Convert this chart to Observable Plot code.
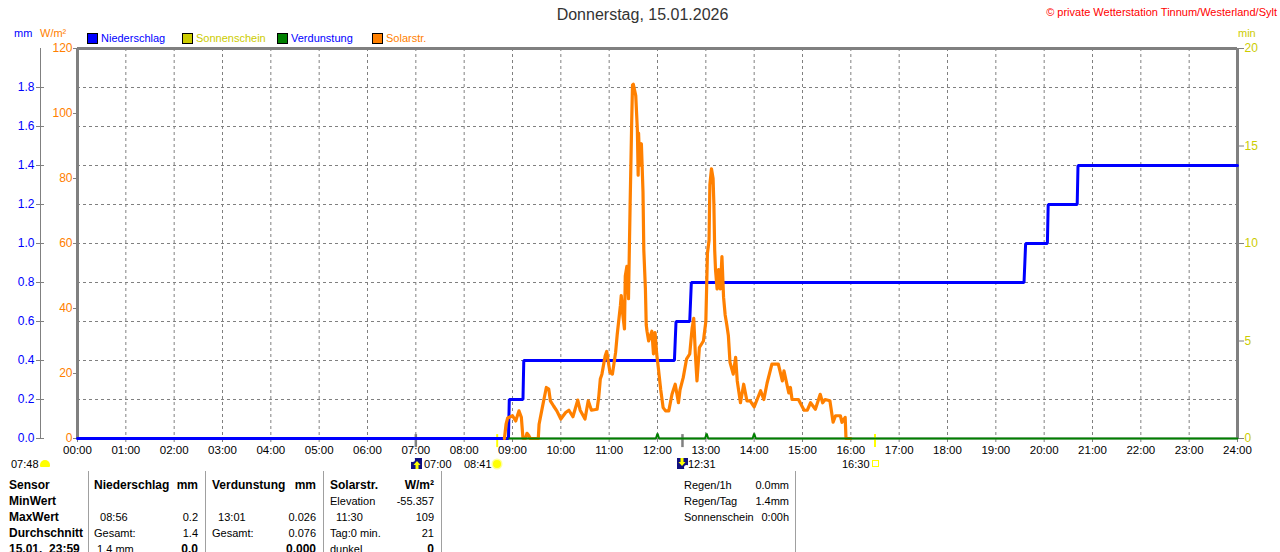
<!DOCTYPE html>
<html><head><meta charset="utf-8">
<script src="https://cdn.jsdelivr.net/npm/d3@7"></script>
<script src="https://cdn.jsdelivr.net/npm/@observablehq/plot@0.6"></script>
<style>
html,body{margin:0;padding:0;background:#fff}
#c{position:relative;width:1280px;height:552px;overflow:hidden;font-family:"Liberation Sans",Arial,sans-serif;font-size:11px;color:#000}
#c svg.plot{position:absolute;left:0;top:0}
.t{position:absolute;white-space:pre;line-height:14px}
.b{font-weight:bold;font-size:12px}
.box{position:absolute;box-sizing:border-box}
</style></head><body><div id="c"></div>
<script>
// ---- data: minutes after midnight ----
const solarMinutes=[530,532,534,540,544,548,551,553,556,558,560,562,572,573,577,579,582,585,587,591,595,600,606,610,615,621,624,630,634,638,645,647,649,651,655,657,661,664,668,670,674,675,677,679,680,682,684,686,688,689,690,693,695,696,696.5,698,700,702,703,705,706,707,709,713,715,717,719,721,724,727,730,734,738,742,746,748,752,756,760,763,765,767,769,772,777,780,782,784,785,787,789,790,791,792,794,796,798,800,802,804,806,808,810,814,817,819,823,827,831,835,840,848,852,856,862,870,875,877,883,885,887,895,902,906,910,916,922,925,928,934,938,941,947,949,953,954,960];
const solarValues=[0,4.4,6.3,7,5.4,8.5,6.5,0,0,1.6,1,0,0,4.4,9.5,12,15.7,15.2,11.6,10,8.5,6,8,8.7,6.7,11.8,8.7,6,11.6,8.7,9,12.6,18.3,19.8,25.4,26.8,20.3,19.8,26.5,32,41,44,38,33.7,50,53,43,71.7,97.8,108.8,109,105.5,95,81,94,84,90.7,75.8,58,46,35,33,30,33,26,32.6,26,21.8,15,9.5,8.5,8.5,13.6,16.7,11,15,18.8,24.4,26,34,37,26,17.7,28,30,36,57,61,78,83,80,72,58,52,46,52,46,56,43.5,38,35,31.6,23.4,19.8,25,17.7,11,16.7,11.6,11.6,9.7,14.7,12,17,22.9,22.9,17.7,20.8,14,15.7,12,12,8.7,8.7,11,9,13.6,11,12,11.6,5,7,7,5,6.5,0,0];
const rainMinutes=[0,535,536,553,554,741,742,743,760,761,762,1175,1176,1177,1204,1205,1241,1242,1440];
const rainValues=[0,0,0.2,0.2,0.4,0.4,0.5,0.6,0.6,0.7,0.8,0.8,0.9,1.0,1.0,1.2,1.2,1.4,1.4];
const evapMinutes=[536,718,720,722,779,781,783,838,840,842,1440];
const evapValues=[0,0,0.026,0,0,0.026,0,0,0.026,0,0];
const hourTicks=d3.range(0,25);
const hourLabels=hourTicks.map(h=>String(h).padStart(2,"0")+":00");
const solarTicks=[0,20,40,60,80,100,120];
const mmTicks=[0,0.2,0.4,0.6,0.8,1.0,1.2,1.4,1.6,1.8];
const minTicks=[0,5,10,15,20];
const gridMm=[0.2,0.4,0.6,0.8,1.0,1.2,1.4,1.6,1.8];
const sunMarks=[521,990];
const greyMarks=[420,751];
const legendNames=["Niederschlag","Sonnenschein","Verdunstung","Solarstr."];
const titleText="Donnerstag, 15.01.2026";
const copyrightText="© private Wetterstation Tinnum/Westerland/Sylt";
const tableSensor=["Sensor","MinWert","MaxWert","Durchschnitt","15.01.  23:59"];
const tableRain=[["Niederschlag","mm"],["",""],["  08:56","0.2"],["Gesamt:","1.4"],[" 1.4 mm","0.0"]];
const tableEvap=[["Verdunstung","mm"],["",""],["  13:01","0.026"],["Gesamt:","0.076"],["","0.000"]];
const tableSolar=[["Solarstr.","W/m²"],["Elevation","-55.357"],["  11:30","109"],["Tag:0 min.","21"],["dunkel","0"]];
const tableSummary=[["Regen/1h","0.0mm"],["Regen/Tag","1.4mm"],["Sonnenschein","0:00h"]];

// ---- styles ----
const BLUE="#0000ff",ORANGE="#ff8000",GREEN="#008000",OLIVE="#cccc00",GREY="#808080";
const mmToW=60,minToW=6;
const pts=(xs,ys,k=1)=>xs.map((x,i)=>({x,y:ys[i]*k}));

const chart=Plot.plot({
  width:1280,height:552,marginLeft:77,marginRight:43,marginTop:48,marginBottom:114,
  style:{fontFamily:'"Liberation Sans",Arial,sans-serif',fontSize:"11px",background:"transparent",color:"#000",overflow:"visible"},
  x:{domain:[0,1440],axis:null},
  y:{domain:[0,120],axis:null},
  marks:[
    Plot.gridX(hourTicks.slice(1,-1).map(h=>h*60),{stroke:GREY,strokeOpacity:1,strokeWidth:1,strokeDasharray:"3,3"}),
    Plot.gridY(gridMm.map(v=>v*mmToW),{stroke:GREY,strokeOpacity:1,strokeWidth:1,strokeDasharray:"3,3"}),
    Plot.ruleX([0,1440],{stroke:GREY,strokeWidth:3}),
    Plot.ruleY([120],{stroke:GREY,strokeWidth:3}),
    Plot.ruleY([0],{stroke:"#a0a0a0",strokeWidth:2}),
    Plot.ruleX([0],{y1:0,y2:120,dx:-37,stroke:GREY,strokeWidth:1}),
    Plot.axisX({ticks:hourTicks.map(h=>h*60),anchor:"bottom",tickSize:4,tickPadding:3,stroke:GREY,fill:"#000",
      tickFormat:d=>hourLabels[d/60],label:null,fontSize:11.5}),
    Plot.axisY({ticks:solarTicks,anchor:"left",tickSize:4,tickPadding:1,stroke:GREY,fill:ORANGE,label:null,fontSize:12}),
    Plot.axisY({ticks:mmTicks.map(v=>v*mmToW),anchor:"left",dx:-33,tickSize:8,tickPadding:2,stroke:GREY,fill:BLUE,
      tickFormat:d=>(d/mmToW).toFixed(1),label:null,fontSize:12}),
    Plot.axisY({ticks:minTicks.map(v=>v*minToW),anchor:"right",tickSize:6,tickPadding:1,stroke:GREY,fill:OLIVE,
      tickFormat:d=>String(d/minToW),label:null,fontSize:12}),
    Plot.ruleX(sunMarks,{y1:-2.8,y2:1.2,stroke:"#ffff00",strokeWidth:2}),
    Plot.ruleX(greyMarks,{y1:-2.8,y2:1.2,stroke:GREY,strokeWidth:2.5}),
    Plot.line(pts(rainMinutes,rainValues,mmToW),{x:"x",y:"y",stroke:BLUE,strokeWidth:3,strokeLinejoin:"miter"}),
    Plot.line(pts(solarMinutes,solarValues),{x:"x",y:"y",stroke:ORANGE,strokeWidth:3.2,strokeLinejoin:"round"}),
    Plot.line(pts(evapMinutes,evapValues,mmToW),{x:"x",y:"y",stroke:GREEN,strokeWidth:2,strokeLinejoin:"miter"})
  ]
});
const c=document.getElementById("c");
c.appendChild(chart);

// ---- text, legend and table around the plot ----
function put(text,x,cy,o={}){
  const e=document.createElement("div");e.className="t"+(o.bold?" b":"");e.textContent=text;
  e.style.top=(cy-7)+"px";
  if(o.right!=null){e.style.right=(1280-o.right)+"px"}else if(o.center){e.style.left=x+"px";e.style.transform="translateX(-50%)"}else{e.style.left=x+"px"}
  if(o.color)e.style.color=o.color;
  if(o.size)e.style.fontSize=o.size+"px";
  c.appendChild(e);return e;
}
function box(x,y,w,h,css){const e=document.createElement("div");e.className="box";
  Object.assign(e.style,{left:x+"px",top:y+"px",width:w+"px",height:h+"px"},css||{});c.appendChild(e);return e;}

put(titleText,642.5,15,{center:true,size:16,color:"#333"});
put(copyrightText,0,12,{right:1277,color:"#ff0000",size:11});
put("mm",14,33,{color:BLUE});
put("W/m²",40,33,{color:ORANGE});
put("min",1238,33,{color:OLIVE});
const legendX=[87,182,277,372],legendSwatch=[BLUE,OLIVE,GREEN,ORANGE],legendText=[BLUE,OLIVE,BLUE,ORANGE];
legendNames.forEach((n,i)=>{
  box(legendX[i],33,11,11,{background:legendSwatch[i],border:"1px solid #000"});
  put(n,legendX[i]+14,38,{color:legendText[i]});
});

// time row beneath the axis
put("07:48",11,464);
box(40,460,10,7,{background:"#ffff00",borderRadius:"5px 5px 1px 1px"});
put("07:00",424,464);
put("08:41",464,464);
box(493,460,8,8,{background:"#ffff00",borderRadius:"50%",boxShadow:"0 0 0 1.5px #ffff99"});
put("12:31",688,464);
put("16:30",842,464);
box(872,460,7,7,{border:"1px solid #ffff00"});
function icon(x,up){
  const e=box(x,458,11,11,{background:"#101080",overflow:"hidden"});
  const s=document.createElementNS("http://www.w3.org/2000/svg","svg");
  s.setAttribute("width",11);s.setAttribute("height",11);
  s.innerHTML=up?'<circle cx="1.5" cy="1.5" r="2.5" fill="#fff"/><path d="M5 3 8.5 7H6.5V11H3.5V7H1.5Z" transform="translate(1 0)" fill="#ffff00"/>'
               :'<circle cx="9.5" cy="9.5" r="2.5" fill="#fff"/><path d="M5 8 8.5 4H6.5V0H3.5V4H1.5Z" fill="#ffff00"/>';
  e.appendChild(s);
}
icon(411,true);icon(677,false);

// table
const rowY=[485,501,517,533,549];
tableSensor.forEach((s,i)=>put(s,9,rowY[i],{bold:true}));
[[tableRain,94,198],[tableEvap,212,316],[tableSolar,330,434]].forEach(([t,l,r])=>{
  t.forEach((row,i)=>{
    const bold=i===0;
    if(row[0])put(row[0],l,rowY[i],{bold});
    if(row[1])put(row[1],0,rowY[i],{right:r,bold:bold||i===4});
  });
});
tableSummary.forEach((row,i)=>{put(row[0],684,rowY[i]);put(row[1],0,rowY[i],{right:789});});
[88,205,323,441,795].forEach(x=>box(x,471,1,81,{background:"#a0a0a0"}));
</script></body></html>
